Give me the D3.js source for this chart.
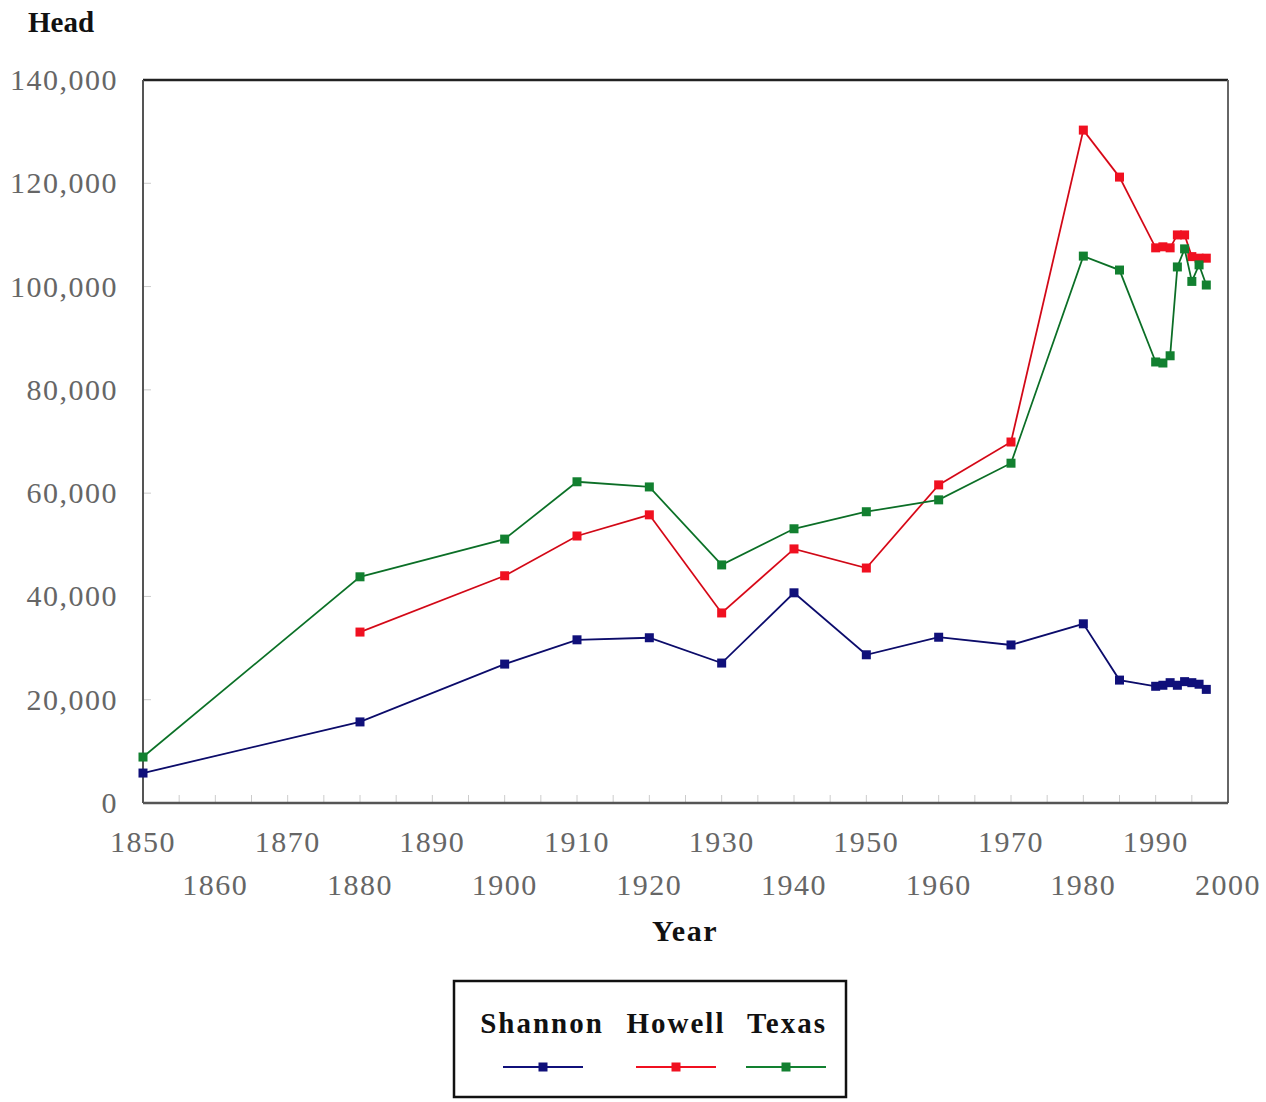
<!DOCTYPE html>
<html>
<head>
<meta charset="utf-8">
<script src="https://cdn.jsdelivr.net/npm/d3@7"></script>
<style>
  html, body { margin: 0; padding: 0; background: #fff; }
  svg { display: block; }
</style>
</head>
<body>
<svg id="chart" width="1266" height="1102"></svg>
<script>
// ---- data ----
const years = [1850, 1880, 1900, 1910, 1920, 1930, 1940, 1950, 1960, 1970, 1980, 1985,
               1990, 1991, 1992, 1993, 1994, 1995, 1996, 1997];
const shannon = [5800, 15700, 26900, 31600, 32000, 27100, 40700, 28700, 32100, 30600, 34700, 23800,
                 22600, 22800, 23300, 22800, 23500, 23300, 23000, 22000];
const howell = [null, 33100, 44000, 51700, 55800, 36800, 49200, 45500, 61600, 69900, 130300, 121200,
                107500, 107700, 107500, 110000, 110000, 105800, 105500, 105500];
const texas = [8900, 43800, 51100, 62200, 61200, 46100, 53100, 56400, 58700, 65800, 105900, 103200,
               85400, 85200, 86600, 103800, 107300, 101000, 104200, 100300];
const seriesNames = ["Shannon", "Howell", "Texas"];
const seriesColors = ["#10107a", "#f01020", "#128030"];
const xTicksTop = [1850, 1870, 1890, 1910, 1930, 1950, 1970, 1990];
const xTicksBottom = [1860, 1880, 1900, 1920, 1940, 1960, 1980, 2000];
const yTicks = [0, 20000, 40000, 60000, 80000, 100000, 120000, 140000];

// ---- layout ----
const svg = d3.select("#chart");
const L = 143, R = 1228, T = 80, B = 803;
const x = d3.scaleLinear().domain([1850, 2000]).range([L, R]);
const y = d3.scaleLinear().domain([0, 140000]).range([B, T]);
const fmt = d3.format(",");
const serif = "Liberation Serif";

// axis ticks (inward, faint)
svg.append("g").selectAll("line").data(d3.range(1855, 2000, 5)).join("line")
  .attr("x1", d => x(d)).attr("x2", d => x(d))
  .attr("y1", B).attr("y2", B - 8)
  .attr("stroke", "#ccc").attr("stroke-width", 1);
svg.append("g").selectAll("line").data(yTicks.slice(1, -1)).join("line")
  .attr("x1", L).attr("x2", L + 8)
  .attr("y1", d => y(d)).attr("y2", d => y(d))
  .attr("stroke", "#ccc").attr("stroke-width", 1);

// frame
svg.append("line").attr("x1", L).attr("x2", R).attr("y1", T).attr("y2", T)
  .attr("stroke", "#222").attr("stroke-width", 2.5);
svg.append("line").attr("x1", L).attr("x2", L).attr("y1", T).attr("y2", B)
  .attr("stroke", "#555").attr("stroke-width", 2);
svg.append("line").attr("x1", R).attr("x2", R).attr("y1", T).attr("y2", B)
  .attr("stroke", "#666").attr("stroke-width", 2);
svg.append("line").attr("x1", L).attr("x2", R).attr("y1", B).attr("y2", B)
  .attr("stroke", "#555").attr("stroke-width", 2.5);

// y labels
svg.append("g").selectAll("text").data(yTicks).join("text")
  .attr("x", 118).attr("y", d => y(d) + 10)
  .attr("text-anchor", "end")
  .attr("font-family", serif).attr("font-size", 30).attr("letter-spacing", 1.5)
  .attr("fill", "#666")
  .text(d => fmt(d));

// x labels, staggered
svg.append("g").selectAll("text").data(xTicksTop).join("text")
  .attr("x", d => x(d)).attr("y", 852)
  .attr("text-anchor", "middle")
  .attr("font-family", serif).attr("font-size", 30).attr("letter-spacing", 1.5)
  .attr("fill", "#666")
  .text(d => d);
svg.append("g").selectAll("text").data(xTicksBottom).join("text")
  .attr("x", d => x(d)).attr("y", 895)
  .attr("text-anchor", "middle")
  .attr("font-family", serif).attr("font-size", 30).attr("letter-spacing", 1.5)
  .attr("fill", "#666")
  .text(d => d);

// axis titles
svg.append("text").attr("x", 28).attr("y", 32)
  .attr("font-family", serif).attr("font-size", 29).attr("font-weight", "bold")
  .attr("fill", "#111").text("Head");
svg.append("text").attr("x", 685).attr("y", 941).attr("text-anchor", "middle")
  .attr("font-family", serif).attr("font-size", 30).attr("font-weight", "bold")
  .attr("letter-spacing", 1.5)
  .attr("fill", "#111").text("Year");

// series
const allSeries = [shannon, howell, texas];
const line = d3.line().defined(d => d.v != null).x(d => x(d.year)).y(d => y(d.v));
allSeries.forEach((vals, i) => {
  const pts = years.map((yr, j) => ({ year: yr, v: vals[j] }));
  const g = svg.append("g");
  g.append("path").datum(pts)
    .attr("d", line).attr("fill", "none")
    .attr("stroke", seriesColors[i]).attr("stroke-width", 1.8);
  g.append("path").datum(pts)
    .attr("d", line).attr("fill", "none")
    .attr("stroke", "#000").attr("stroke-opacity", 0.25).attr("stroke-width", 0.8);
  g.selectAll("rect").data(pts.filter(d => d.v != null)).join("rect")
    .attr("x", d => x(d.year) - 4.5).attr("y", d => y(d.v) - 4.5)
    .attr("width", 9).attr("height", 9)
    .attr("fill", seriesColors[i]);
});

// legend
svg.append("rect").attr("x", 454).attr("y", 981).attr("width", 392).attr("height", 116)
  .attr("fill", "none").attr("stroke", "#111").attr("stroke-width", 2.5);
const legX = [542, 676, 787];
const legLine = [[503, 583], [636, 716], [746, 826]];
seriesNames.forEach((n, i) => {
  svg.append("text").attr("x", legX[i]).attr("y", 1033).attr("text-anchor", "middle")
    .attr("font-family", serif).attr("font-size", 29).attr("font-weight", "bold")
    .attr("letter-spacing", 2)
    .attr("fill", "#111").text(n);
  svg.append("line").attr("x1", legLine[i][0]).attr("x2", legLine[i][1])
    .attr("y1", 1067).attr("y2", 1067)
    .attr("stroke", seriesColors[i]).attr("stroke-width", 2);
  svg.append("rect").attr("x", (legLine[i][0] + legLine[i][1]) / 2 - 4.5).attr("y", 1067 - 4.5)
    .attr("width", 9).attr("height", 9).attr("fill", seriesColors[i]);
});
</script>
</body>
</html>
